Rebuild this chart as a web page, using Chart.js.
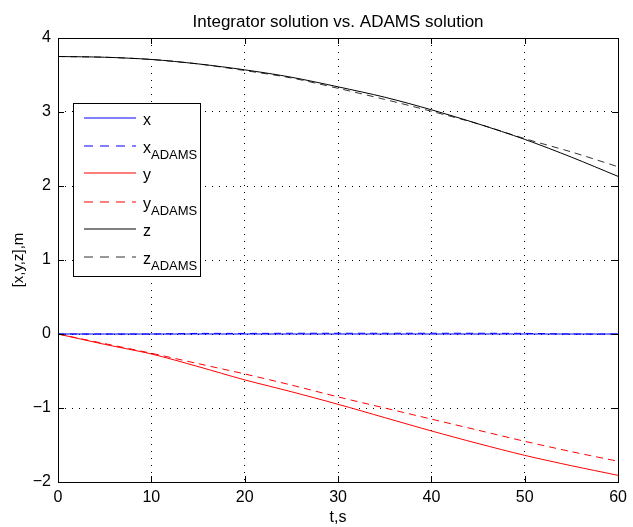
<!DOCTYPE html>
<html>
<head>
<meta charset="utf-8">
<script src="https://cdn.jsdelivr.net/npm/chart.js@4"></script>
<style>
  html, body { margin: 0; padding: 0; background: #fff; }
  #wrap { width: 633px; height: 527px; }
</style>
</head>
<body>
<div id="wrap"><canvas id="chart" width="633" height="527"></canvas></div>
<script>
// time, s
const tValues = [0, 5, 10, 15, 20, 25, 30, 35, 40, 45, 50, 55, 60];

// integrator and ADAMS solutions
const xInt   = [0, 0, 0, 0, 0, 0, 0, 0, 0, 0, 0, 0, 0];
const xAdams = [0, 0, 0, 0.008, 0.008, 0.01, 0.01, 0.01, 0.01, 0.01, 0.008, 0, 0];
const yInt   = [0, -0.14, -0.27, -0.44, -0.62, -0.78, -0.95, -1.13, -1.31, -1.48, -1.64, -1.78, -1.91];
const yAdams = [0, -0.13, -0.26, -0.40, -0.54, -0.69, -0.85, -1.00, -1.15, -1.30, -1.45, -1.59, -1.72];
const zInt   = [3.75, 3.74, 3.71, 3.65, 3.57, 3.47, 3.34, 3.20, 3.03, 2.84, 2.63, 2.39, 2.13];
const zAdams = [3.75, 3.74, 3.71, 3.65, 3.56, 3.46, 3.32, 3.17, 3.01, 2.84, 2.64, 2.46, 2.26];

const xTicks = [0, 10, 20, 30, 40, 50, 60];
const yTicks = [-2, -1, 0, 1, 2, 3, 4];

const seriesNames  = ['x', 'x', 'y', 'y', 'z', 'z'];
const seriesSubs   = ['', 'ADAMS', '', 'ADAMS', '', 'ADAMS'];
const seriesColors = ['#0000ff', '#0000ff', '#ff0000', '#ff0000', '#000000', '#333333'];
const seriesDashed = [false, true, false, true, false, true];

const titleText = 'Integrator solution vs. ADAMS solution';

const FONT = 'Arial, "Liberation Sans", Helvetica, sans-serif';

function pts(arr) {
    return tValues.map((t, i) => ({ x: t, y: arr[i] }));
}

function makeSet(arr, i) {
    return {
        label: seriesNames[i] + seriesSubs[i],
        data: pts(arr),
        borderColor: seriesColors[i],
        borderWidth: 1,
        borderDash: seriesDashed[i] ? [7, 5] : [],
        pointRadius: 0,
        tension: 0.3,
        fill: false
    };
}

// frame, inward ticks, title over the axes and the legend with subscripts
const matlabLook = {
    id: 'matlabLook',
    afterDraw(chart) {
        const ctx = chart.ctx;
        const a = chart.chartArea;
        const xs = chart.scales.x, ys = chart.scales.y;
        ctx.save();
        ctx.strokeStyle = '#000';
        ctx.lineWidth = 1;
        ctx.strokeRect(Math.round(a.left) + 0.5, Math.round(a.top) + 0.5,
            Math.round(a.right - a.left), Math.round(a.bottom - a.top));
        ctx.beginPath();
        xTicks.forEach(v => {
            const px = Math.round(xs.getPixelForValue(v)) + 0.5;
            ctx.moveTo(px, a.bottom); ctx.lineTo(px, a.bottom - 6);
            ctx.moveTo(px, a.top); ctx.lineTo(px, a.top + 6);
        });
        yTicks.forEach(v => {
            const py = Math.round(ys.getPixelForValue(v)) + 0.5;
            ctx.moveTo(a.left, py); ctx.lineTo(a.left + 6, py);
            ctx.moveTo(a.right, py); ctx.lineTo(a.right - 6, py);
        });
        ctx.stroke();

        // title, centred over the plot box
        ctx.fillStyle = '#000';
        ctx.font = '17px ' + FONT;
        ctx.textAlign = 'center';
        ctx.textBaseline = 'alphabetic';
        ctx.fillText(titleText, (a.left + a.right) / 2, 27);

        // legend box
        const lx = 73, ly = 103, lw = 127, lh = 173;
        const rowY = [118, 146, 173, 202, 229, 257];
        ctx.fillStyle = '#fff';
        ctx.fillRect(lx, ly, lw, lh);
        ctx.strokeStyle = '#000';
        ctx.strokeRect(lx + 0.5, ly + 0.5, lw, lh);
        seriesNames.forEach((name, i) => {
            const y = rowY[i];
            ctx.beginPath();
            ctx.strokeStyle = seriesColors[i];
            ctx.lineWidth = 1.2;
            ctx.setLineDash(seriesDashed[i] ? [9, 7] : []);
            ctx.moveTo(84, y);
            ctx.lineTo(136, y);
            ctx.stroke();
            ctx.setLineDash([]);
            ctx.fillStyle = '#000';
            ctx.textBaseline = 'alphabetic';
            ctx.textAlign = 'left';
            ctx.font = '16px ' + FONT;
            ctx.fillText(name, 143, y + 7);
            if (seriesSubs[i]) {
                const w = ctx.measureText(name).width;
                ctx.font = '13px ' + FONT;
                ctx.fillText(seriesSubs[i], 143 + w, y + 13);
            }
        });
        ctx.restore();
    }
};

const chart = new Chart(document.getElementById('chart'), {
    type: 'line',
    data: {
        datasets: [
            makeSet(xInt, 0),
            makeSet(xAdams, 1),
            makeSet(yInt, 2),
            makeSet(yAdams, 3),
            makeSet(zInt, 4),
            makeSet(zAdams, 5)
        ]
    },
    options: {
        responsive: false,
        animation: false,
        layout: { padding: { left: 0, right: 11, top: 38, bottom: 0 } },
        plugins: {
            legend: { display: false },
            tooltip: { enabled: false },
            title: { display: false }
        },
        scales: {
            x: {
                type: 'linear',
                min: 0, max: 60,
                afterBuildTicks: s => { s.ticks = xTicks.map(v => ({ value: v })); },
                afterFit: s => { s.height = 45; },
                ticks: {
                    color: '#000',
                    font: { family: FONT, size: 16 },
                    padding: 6,
                    maxRotation: 0
                },
                grid: { color: '#000', lineWidth: 1, tickLength: 0, drawTicks: false },
                border: { display: false, dash: [1, 6] },
                title: {
                    display: true, text: 't,s', color: '#000',
                    font: { family: FONT, size: 16 }, padding: { top: 0, bottom: 0 }
                }
            },
            y: {
                type: 'linear',
                min: -2, max: 4,
                afterBuildTicks: s => { s.ticks = yTicks.map(v => ({ value: v })); },
                afterFit: s => { s.width = 58; },
                ticks: {
                    color: '#000',
                    font: { family: FONT, size: 16 },
                    padding: 7,
                    callback: v => (v < 0 ? '\u2212' + Math.abs(v) : String(v))
                },
                grid: { color: '#000', lineWidth: 1, tickLength: 0, drawTicks: false },
                border: { display: false, dash: [1, 6] },
                title: {
                    display: true, text: '[x,y,z],m', color: '#000',
                    font: { family: FONT, size: 15 }, padding: { top: 10, bottom: 0 }
                }
            }
        }
    },
    plugins: [matlabLook]
});
</script>
</body>
</html>
